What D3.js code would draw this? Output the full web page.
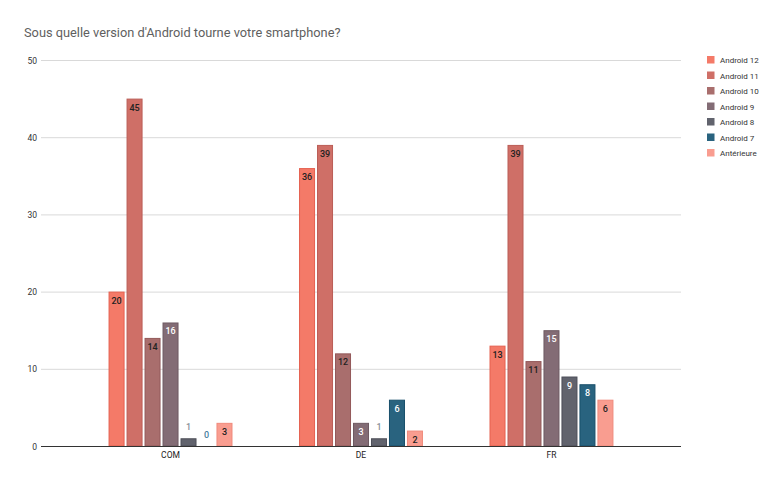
<!DOCTYPE html>
<html><head><meta charset="utf-8">
<script src="https://cdn.jsdelivr.net/npm/d3@7"></script>
<style>body{margin:0;background:#fff}svg{display:block;font-family:Roboto,Arial,sans-serif}</style>
</head><body><svg id="c" width="782" height="484"></svg>
<script>
const categories = ["COM", "DE", "FR"];
const seriesNames = ["Android 12", "Android 11", "Android 10", "Android 9", "Android 8", "Android 7", "Antérieure"];
const android12 = [20, 36, 13];
const android11 = [45, 39, 39];
const android10 = [14, 12, 11];
const android9 = [16, 3, 15];
const android8 = [1, 1, 9];
const android7 = [0, 6, 8];
const anterieure = [3, 2, 6];
const yTicks = [0, 10, 20, 30, 40, 50];
const colors = ["#f47a68", "#cf6f67", "#a96e6d", "#836c75", "#61636d", "#29637f", "#f99d90"];
const strokes = ["#e5604f", "#bb5d56", "#93595a", "#6e5a62", "#4c4e58", "#184f6b", "#f08a7c"];
const labelInside = ["#222", "#222", "#222", "#fff", "#fff", "#fff", "#222"];
const labelOutside = ["#222", "#222", "#222", "#888", "#8a8f98", "#4a7fa0", "#222"];

const seriesValues = [android12, android11, android10, android9, android8, android7, anterieure];
const data = categories.map((c, i) => ({cat: c, vals: seriesNames.map((s, j) => ({s, j, v: seriesValues[j][i]}))}));

const svg = d3.select("#c");
const pLeft = 41, pRight = 681, pTop = 60, pBottom = 446;
const y = d3.scaleLinear().domain([0, 50]).range([pBottom, pTop]);
const x = d3.scaleBand().domain(categories).range([pLeft, pRight]).paddingInner(0).paddingOuter(0.18);
const xs = d3.scaleBand().domain(seriesNames).range([0, x.bandwidth()]).paddingInner(0.11).paddingOuter(1.85);

svg.append("text").attr("x", 24).attr("y", 37).attr("fill", "#5f5f5f")
  .style("font-size", "12.8px").text("Sous quelle version d'Android tourne votre smartphone?");

// grid
const g = svg.append("g");
g.selectAll("line.grid").data(yTicks.filter(t => t > 0)).join("line")
  .attr("x1", pLeft).attr("x2", pRight).attr("y1", d => y(d) + 0.5).attr("y2", d => y(d) + 0.5)
  .attr("stroke", "#d9d9d9").attr("stroke-width", 1);
g.selectAll("text.yt").data(yTicks).join("text")
  .attr("x", 37).attr("y", d => y(d) + 3.5).attr("text-anchor", "end")
  .attr("fill", "#333").style("font-size", "8.5px").text(d => d);

// bars
const groups = svg.selectAll("g.cat").data(data).join("g").attr("class", "cat").attr("transform", d => `translate(${x(d.cat)},0)`);
groups.selectAll("rect").data(d => d.vals.filter(v => v.v > 0)).join("rect")
  .attr("x", d => xs(d.s) + 0.5).attr("width", xs.bandwidth() - 1)
  .attr("y", d => y(d.v) + 0.5).attr("height", d => y(0) - y(d.v) - 0.5)
  .attr("fill", d => colors[d.j]).attr("stroke", d => strokes[d.j]).attr("stroke-width", 1);
groups.selectAll("text").data(d => d.vals).join("text")
  .attr("x", d => xs(d.s) + xs.bandwidth() / 2)
  .attr("y", d => (y(0) - y(d.v) >= 14) ? y(d.v) + 12 : y(d.v) - 8)
  .attr("text-anchor", "middle").style("font-size", "9px").style("font-weight", 500)
  .attr("fill", d => (y(0) - y(d.v) >= 14) ? labelInside[d.j] : labelOutside[d.j])
  .text(d => d.v);

// axis baseline
svg.append("line").attr("x1", pLeft).attr("x2", pRight).attr("y1", pBottom + 0.5).attr("y2", pBottom + 0.5)
  .attr("stroke", "#333").attr("stroke-width", 1);
svg.selectAll("text.xt").data(categories).join("text").attr("class", "xt")
  .attr("x", d => x(d) + x.bandwidth() / 2).attr("y", 458).attr("text-anchor", "middle")
  .attr("fill", "#222").style("font-size", "8.5px").text(d => d);

// legend
const lg = svg.selectAll("g.leg").data(seriesNames).join("g").attr("class", "leg")
  .attr("transform", (d, i) => `translate(707,${56 + i * 15.5})`);
lg.append("rect").attr("width", 7.5).attr("height", 7.5).attr("fill", (d, i) => colors[i]);
lg.append("text").attr("x", 13).attr("y", 7).attr("fill", "#333").style("font-size", "8px").text(d => d);
</script></body></html>
